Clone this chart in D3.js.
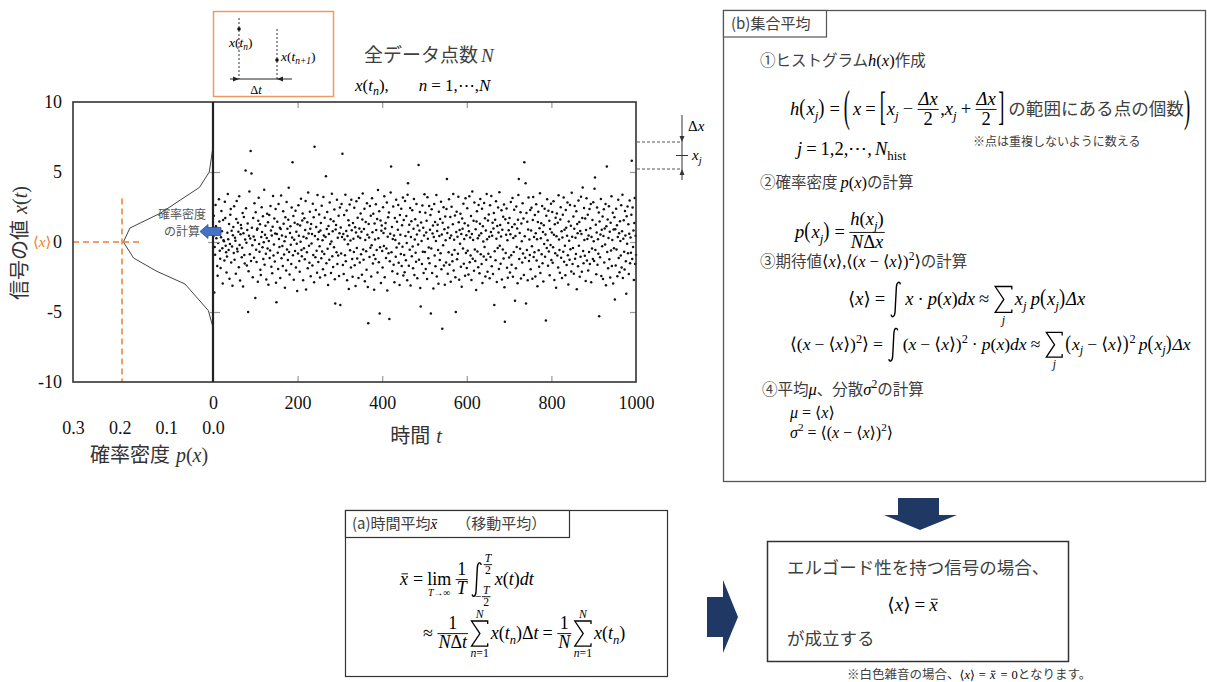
<!DOCTYPE html>
<html>
<head>
<meta charset="utf-8">
<script src="https://cdn.jsdelivr.net/npm/d3@7"></script>
<style>body{margin:0;background:#fff} svg{display:block}</style>
</head>
<body>
<svg id="chart" width="1207" height="682"></svg>
<script>
// signal value x(t_n), n = 1..1000 (one row = 50 samples)
var signal = [
0.42,1.87,-3.60,-0.35,-0.91,2.64,1.13,0.27,0.58,-1.72, -2.41,-0.08,0.93,3.05,1.46,-0.62,-1.19,-1.85,0.34,2.21, 0.77,-0.44,-2.96,1.58,0.12,0.05,-1.33,2.87,1.71,-0.26, -0.73,-2.18,-1.04,0.66,3.42,0.19,-0.57,1.29,-2.63,-0.15, 1.94,2.36,-1.47,0.81,-0.33,-3.12,0.48,1.07,-0.79,2.55,
-1.26,0.31,0.09,-2.27,1.64,2.93,-0.48,-0.67,1.38,0.74, -1.81,3.27,-0.21,-2.75,0.56,1.22,0.98,-1.09,-0.41,2.08, -3.18,0.63,1.79,-0.92,-1.54,0.17,5.10,2.41,-0.06,-1.67, 0.85,1.33,-5.00,-2.09,0.44,3.61,-0.87,0.25,6.50,-1.35, 4.90,1.02,-0.23,-2.51,1.71,0.39,-1.12,2.77,0.14,-4.00,
2.13,-0.55,-1.43,0.88,0.96,-2.84,1.52,3.16,-0.14,-0.69, 1.27,-1.98,-2.36,0.35,2.49,0.71,-0.38,1.84,-1.21,-0.02, 3.74,-1.63,0.52,1.16,-0.84,-2.67,0.29,2.02,-0.47,1.41, -3.05,0.07,1.93,-1.15,-0.61,2.58,0.83,-1.77,0.46,-2.23, 1.09,3.28,-0.97,-0.18,1.67,-1.39,0.61,2.35,-2.91,-4.30,
0.58,1.44,-0.76,-1.93,2.71,0.21,-0.35,1.02,-2.58,0.93, 3.33,-1.16,0.47,-0.28,-1.71,2.19,1.31,-0.89,0.06,-3.27, 1.76,0.38,-2.04,2.86,-0.53,0.94,-1.28,1.59,3.88,-0.71, -2.32,0.65,1.12,-0.19,-1.57,2.47,0.33,5.70,-0.94,1.85, -2.69,0.16,1.38,-0.64,2.24,-1.82,0.74,-0.12,-3.50,1.26,
-0.83,2.62,0.45,-1.36,-2.12,1.18,0.02,3.09,-0.57,-1.02, 1.53,2.04,-2.74,0.37,-0.45,1.69,-1.24,0.86,2.93,-3.39, 0.27,-0.74,1.41,-1.88,3.53,0.61,-0.26,-1.49,2.16,0.94, -2.45,1.29,-0.11,0.58,-1.67,2.74,-0.93,1.76,-2.88,6.80, 0.43,-1.09,2.28,1.07,-0.62,-2.19,3.36,0.19,-1.42,0.71,
1.96,-0.31,-2.53,0.82,1.35,-1.16,2.59,-0.68,0.13,-1.94, 3.21,0.47,-0.86,1.73,-2.37,0.35,4.70,-1.51,0.92,2.14, -0.49,-3.08,1.15,0.58,-1.27,2.82,-0.14,1.63,-2.21,0.04, 3.44,-1.01,0.76,-1.79,1.48,-0.37,2.33,-2.66,-4.40,0.89, 1.22,-0.73,3.01,-1.58,0.31,-0.96,1.87,-2.42,0.63,2.46,
-4.50,1.04,-0.82,2.71,0.36,6.30,-1.64,0.57,-2.29,1.92, 0.18,-0.94,3.38,-1.37,0.79,2.25,-2.73,0.42,-0.16,1.56, -3.36,1.19,2.67,-0.59,0.11,-1.83,3.02,0.84,-1.21,-2.48, 1.36,0.23,-0.72,2.44,-1.66,1.05,-3.14,0.68,2.91,-0.43, -1.18,1.73,0.39,-2.57,3.15,0.96,-1.47,0.28,2.04,-0.87,
0.74,-2.34,1.61,3.47,-0.53,-1.26,0.92,2.38,-2.81,0.15, 1.43,-0.66,-1.99,2.76,0.51,-3.22,-5.80,1.28,0.33,-1.08, 2.57,-0.41,1.88,-2.46,-0.24,3.12,0.69,-1.53,2.01,-0.92, -3.41,1.32,0.17,-1.21,2.69,0.86,-0.58,1.64,-2.17,3.72, 0.26,-1.44,2.19,-5.10,-0.37,1.53,-2.93,0.81,1.17,-0.65,
-1.83,2.48,0.64,-0.29,3.26,-2.51,0.97,1.35,-1.14,-0.47, 2.82,-3.46,0.38,1.76,-0.81,2.11,-5.50,-1.37,0.59,3.54, 5.40,-0.73,1.08,-2.09,0.22,2.53,-1.62,0.46,-2.88,1.71, 0.14,-1.05,3.02,-0.39,1.44,-2.26,0.88,2.65,-1.48,-0.11, -3.07,1.93,0.51,-0.86,2.37,-1.72,1.19,-0.34,3.18,-2.39,
1.57,-0.93,-2.16,2.92,0.43,-1.31,1.86,-0.07,-2.74,3.37, 4.20,0.71,-1.69,1.24,-0.55,2.43,-3.11,0.36,1.48,-1.02, 2.26,-0.32,-1.87,0.95,3.08,-2.36,0.18,1.63,-0.76,-1.41, 2.71,0.54,-2.59,1.17,-0.18,5.50,-1.26,0.83,2.14,-3.28, -4.60,1.39,0.07,-1.58,2.61,-0.69,1.02,-2.22,0.47,3.41,
-0.71,2.09,-1.93,0.68,1.51,-2.64,3.19,0.24,-1.16,-0.39, 2.58,-1.52,0.87,1.92,-5.10,-0.47,2.34,-2.21,0.61,1.17, -3.33,0.35,2.72,-0.96,1.43,-1.74,0.08,3.36,-2.47,0.79, 1.24,-0.58,-2.98,2.16,0.42,-1.29,1.65,-0.81,2.87,-1.94, 0.53,-6.20,1.37,-0.24,2.49,-1.68,0.91,-3.06,1.83,0.12,
-1.47,2.36,4.50,0.64,-2.27,1.03,-0.73,3.05,-1.62,0.29, 1.78,-2.84,0.47,2.51,-0.91,-1.38,1.26,3.42,-2.03,0.16, -0.57,1.89,-2.52,-5.00,0.72,2.16,-1.23,0.37,-0.84,3.23, 1.41,-2.69,0.85,-0.13,2.02,-1.76,0.58,-3.19,1.67,0.94, -0.46,2.73,-1.55,0.21,1.34,-2.41,3.12,-0.78,0.49,-1.86,
2.41,-0.62,1.18,-2.33,0.76,3.27,-1.44,0.32,-0.97,1.86, -2.71,0.58,3.61,-1.19,0.14,1.52,-2.06,2.83,-0.53,-1.35, 0.91,-3.42,1.47,2.19,-0.68,0.26,-1.81,2.64,0.47,-2.24, 1.31,3.08,-0.87,0.63,-1.58,2.37,-2.92,1.12,0.04,-1.03, 2.78,-0.36,1.69,-2.47,0.82,-1.27,3.43,0.19,-2.13,1.54,
-0.84,1.96,0.37,-2.59,2.62,-1.08,0.71,3.29,-1.73,0.45, 1.37,-2.28,0.96,2.08,-4.50,-0.66,1.59,-1.31,2.91,0.23, -2.86,1.14,-0.42,2.47,0.68,-1.92,3.55,-0.27,1.21,-1.56, 0.39,2.26,-2.67,0.87,-0.54,1.81,-1.17,2.68,-3.24,-5.70, 1.63,-0.79,0.51,2.39,-1.84,0.12,-2.55,1.36,0.84,-1.11,
1.72,-2.18,0.56,2.86,-0.94,-1.63,1.07,3.14,-2.49,0.28, -0.71,2.31,1.26,-4.20,0.43,-1.87,2.54,-0.36,0.97,-2.94, 1.59,3.36,4.50,-1.21,0.64,-0.49,2.12,-2.61,1.33,0.05, -1.46,2.77,-0.83,1.68,-2.35,5.70,0.41,-1.13,4.20,-4.40, 2.07,-0.58,1.44,-2.74,0.89,3.18,-1.36,0.17,-0.92,2.29,
-1.94,0.83,2.44,-0.31,-2.63,1.57,3.21,-1.08,0.36,-0.74, 1.93,-2.46,0.62,2.69,-1.33,0.19,-3.16,1.42,2.16,-0.59, -1.77,0.98,3.49,-2.21,0.27,1.34,-0.88,2.58,-1.52,0.71, -2.83,1.19,-0.15,2.37,-1.06,0.54,-5.60,1.88,-0.42,3.06, 0.13,-1.69,2.23,-0.67,1.51,-2.38,0.92,-0.21,2.74,-1.28,
0.67,2.15,-1.49,-0.38,2.91,0.52,-2.72,1.26,-0.81,1.74, -3.26,0.41,2.03,-0.96,1.37,-1.82,3.34,0.18,-0.57,-2.19, 1.61,2.48,-1.13,0.76,-2.58,0.33,1.94,-0.69,3.17,-1.41, 0.88,-0.27,-2.37,2.29,1.02,-1.64,0.45,2.82,-0.94,-3.03, 1.47,0.09,-1.27,2.64,-0.52,1.16,-2.11,3.51,0.37,-1.58,
-0.43,1.82,-2.26,0.94,2.57,-1.19,0.31,-0.86,2.19,-3.37, 1.28,0.63,-1.74,2.96,-0.27,1.43,-2.48,0.79,-1.06,3.24, 0.58,-2.13,1.71,3.90,-0.64,-1.52,2.43,0.14,-0.99,1.67, -2.78,0.86,3.13,-1.33,0.22,1.95,-2.04,0.47,-0.71,2.36, -1.57,0.99,2.71,-2.87,0.35,-0.46,1.58,-1.21,2.84,0.06,
-1.36,3.80,4.60,-0.57,1.24,-2.31,0.68,2.47,-1.62,0.19, -0.84,2.11,-5.30,1.46,-1.09,0.53,3.07,-2.42,0.87,-0.31, 1.83,-2.65,0.42,2.34,-1.47,0.96,-0.18,2.72,-3.09,1.13, 5.40,-0.72,1.61,-1.88,0.28,2.56,-1.24,0.74,-2.53,1.37, -0.61,3.26,-1.71,0.15,2.09,-2.97,0.89,-0.44,1.76,-4.10,
0.91,-1.67,2.38,-0.53,1.19,-2.44,0.36,3.02,-1.14,0.62, -2.16,1.49,0.08,-0.97,2.63,-1.83,0.77,3.38,-2.58,0.24, 1.56,-0.69,-1.96,2.21,0.47,-1.38,-3.70,1.84,-0.12,2.54, -0.81,1.27,-2.29,0.59,2.96,-1.52,0.33,-0.76,1.95,5.80, -1.21,2.47,-0.36,0.83,-2.71,1.36,3.14,-1.58,0.44,-0.93
];
// histogram based probability density p(x) (left panel)
var pdfValue = [-6.1, -4.9, -3.0, -2.1, -1.15, 0, 1.0, 2.05, 3.9, 5.0, 6.8];
var pdfDensity = [0, 0.01, 0.06, 0.12, 0.17, 0.192, 0.178, 0.113, 0.029, 0.008, 0];
var yTicks = [10, 5, 0, -5, -10];
var tTicks = [0, 200, 400, 600, 800, 1000];
var pTicks = [0.3, 0.2, 0.1, 0.0];
var innerTicks = [5, 0, -5];
var meanValue = 0, meanDensity = 0.195, meanDashTop = 3.1;

var MF = "'Liberation Serif','DejaVu Serif',serif";
var JF = "'Noto Sans CJK JP',sans-serif";
var JC = "#404040";

var svg = d3.select("#chart");

var y = d3.scaleLinear().domain([-10, 10]).range([382, 102]);
var t = d3.scaleLinear().domain([0, 1000]).range([213, 636]);
var p = d3.scaleLinear().domain([0, 0.3]).range([213, 73]);

// ---------- small math typesetting helpers ----------
function I(s) { return {t: s, i: 1}; }
function R(s) { return {t: s}; }
function J(s, k) { return {t: s, jp: 1, k: k || 1}; }
function SB(s, it) { return {t: s, sub: 1, i: it}; }
function SP(s) { return {t: s, sup: 1}; }
function G(n) { return {gap: n}; }
function OP(s) { return [G(4), R(s), G(4)]; }
function F(n, d, up) { return {frac: [n, d], up: up || 0}; }
function BIG(ch, k) { return {big: ch, k: k}; }
function SUM(lo, hi) { return {sum: 1, lo: lo, hi: hi}; }
function INT(lo, hi) { return {integ: 1, lo: lo, hi: hi}; }
function BAR(s) { return {bar: s}; }
function LIM(sub) { return {lim: sub}; }

function flat(a) {
  return a.reduce(function(r, v) { return r.concat(Array.isArray(v) ? flat(v) : [v]); }, []);
}

function put(g, x, yy, s, fs, o) {
  o = o || {};
  return g.append("text").attr("x", x).attr("y", yy)
    .attr("font-family", o.jp ? JF : MF).attr("font-size", fs)
    .attr("font-style", o.i ? "italic" : null)
    .attr("fill", o.fill || (o.jp ? JC : "#000"))
    .attr("text-anchor", o.anchor || null)
    .text(s);
}
function wid(e) { return e.node().getComputedTextLength(); }

function seq(g, x, yy, items, fs, col) {
  var cx = x, ink = col || "#000";
  flat(items).forEach(function(it) {
    if (it.gap != null) { cx += it.gap; return; }
    var ax = yy - fs * 0.3;
    if (it.frac) {
      var ng = g.append("g"), dg = g.append("g");
      var wn = seq(ng, 0, 0, it.frac[0], fs, col);
      var wd = seq(dg, 0, 0, it.frac[1], fs, col);
      var w = Math.max(wn, wd) + 3;
      ng.attr("transform", "translate(" + (cx + (w - wn) / 2) + "," + (ax - fs * (0.26 + it.up)) + ")");
      dg.attr("transform", "translate(" + (cx + (w - wd) / 2) + "," + (ax + fs * 0.82) + ")");
      g.append("line").attr("x1", cx + 0.5).attr("x2", cx + w - 0.5)
        .attr("y1", ax).attr("y2", ax).attr("stroke", ink).attr("stroke-width", 0.9);
      cx += w + 1; return;
    }
    if (it.big) {
      var b = put(g, 0, fs * 0.25, it.big, fs, {fill: col})
        .attr("transform", "translate(" + cx + "," + ax + ") scale(1," + it.k + ")");
      cx += wid(b) + 1; return;
    }
    if (it.sum) {
      var sw = fs * 0.9, sh = fs * 0.7, sx = cx + 2;
      g.append("path")
        .attr("d", "M" + (sx + sw) + "," + (ax - sh + 3) + " L" + (sx + sw) + "," + (ax - sh) + " L" + sx + "," + (ax - sh) +
          " L" + (sx + sw * 0.52) + "," + ax + " L" + sx + "," + (ax + sh) + " L" + (sx + sw) + "," + (ax + sh) + " L" + (sx + sw) + "," + (ax + sh - 3))
        .attr("fill", "none").attr("stroke", ink).attr("stroke-width", 1.3).attr("stroke-linejoin", "miter");
      if (it.lo) centered(g, sx + sw / 2, ax + sh + fs * 0.62, it.lo, fs * 0.65, col);
      if (it.hi) centered(g, sx + sw / 2, ax - sh - fs * 0.18, it.hi, fs * 0.65, col);
      cx += sw + 5; return;
    }
    if (it.integ) {
      var iw = fs * 0.5, top = ax - fs * 0.95, bot = ax + fs * 0.95, h = bot - top, ix = cx + 2;
      g.append("path")
        .attr("d", "M" + (ix + iw) + "," + (top + h * 0.07) + " C" + (ix + iw * 0.95) + "," + (top - h * 0.02) + " " + (ix + iw * 0.62) + "," + (top - h * 0.02) +
          " " + (ix + iw * 0.57) + "," + (top + h * 0.15) + " L" + (ix + iw * 0.43) + "," + (bot - h * 0.15) +
          " C" + (ix + iw * 0.38) + "," + (bot + h * 0.02) + " " + (ix + iw * 0.05) + "," + (bot + h * 0.02) + " " + ix + "," + (bot - h * 0.07))
        .attr("fill", "none").attr("stroke", ink).attr("stroke-width", 1.4);
      var adv = iw + 4, fl = fs * 0.65;
      if (it.hi) adv = Math.max(adv, iw + 2 + seq(g, ix + iw + 2, top + fs * 0.12 + fl * 0.3, it.hi, fl, col));
      if (it.lo) adv = Math.max(adv, iw * 0.3 + seq(g, ix + iw * 0.3, bot + fl * 0.3, it.lo, fl, col));
      cx = ix + adv + 1; return;
    }
    if (it.bar) {
      var xb = put(g, cx, yy, it.bar, fs, {i: 1, fill: col});
      var wb = wid(xb);
      g.append("line").attr("x1", cx + wb * 0.2).attr("x2", cx + wb * 1.0)
        .attr("y1", yy - fs * 0.62).attr("y2", yy - fs * 0.62).attr("stroke", ink).attr("stroke-width", 0.9);
      cx += wb + 1; return;
    }
    if (it.lim) {
      var lg = g.append("g");
      var wsub = centered(lg, 0, yy + fs * 0.62, it.lim, fs * 0.55, col);
      var l = put(lg, 0, yy, "lim", fs, {fill: col});
      var wl = wid(l);
      l.attr("x", -wl / 2);
      var wm = Math.max(wl, wsub);
      lg.attr("transform", "translate(" + (cx + wm / 2) + ",0)");
      cx += wm + 1; return;
    }
    var sz = (it.sub || it.sup) ? fs * 0.7 : fs * (it.k || 1);
    var y2 = it.sub ? yy + fs * 0.25 : it.sup ? yy - fs * 0.42 : yy;
    var e = put(g, cx, y2, it.t, sz, {i: it.i, jp: it.jp, fill: col});
    cx += wid(e);
  });
  return cx - x;
}
function centered(g, xm, yy, items, fs, col) {
  var gg = g.append("g");
  var w = seq(gg, 0, yy, items, fs, col);
  gg.attr("transform", "translate(" + (xm - w / 2) + ",0)");
  return w;
}

// ---------- main plot ----------
var plot = svg.append("g");

// scatter of the signal
plot.selectAll(".dot").data(signal).enter().append("circle")
  .attr("class", "dot")
  .attr("cx", function(d, i) { return t(i + 1); })
  .attr("cy", function(d) { return y(d); })
  .attr("r", 1.25)
  .attr("fill", "#111");

// probability density curve
var pdfPts = pdfValue.map(function(v, i) { return [p(pdfDensity[i]), y(v)]; });
plot.append("path").attr("d", d3.line()(pdfPts))
  .attr("fill", "none").attr("stroke", "#444").attr("stroke-width", 1);

// orange dashed guides for <x>
plot.append("line").attr("x1", p(0.3)).attr("x2", p(0.155)).attr("y1", y(meanValue)).attr("y2", y(meanValue))
  .attr("stroke", "#ED7D31").attr("stroke-width", 1.5).attr("stroke-dasharray", "6,4");
plot.append("line").attr("x1", p(meanDensity)).attr("x2", p(meanDensity)).attr("y1", y(meanDashTop)).attr("y2", y(-10))
  .attr("stroke", "#ED7D31").attr("stroke-width", 1.5).attr("stroke-dasharray", "6,4");

// ticks
function tickStyle(sel) {
  sel.select(".domain").remove();
  sel.selectAll("line").attr("stroke", "#999").attr("stroke-width", 1.2);
  sel.selectAll("text").remove();
}
plot.append("g").attr("transform", "translate(" + t(0) + ",0)")
  .call(d3.axisLeft(y).tickValues(innerTicks).tickSize(5)).call(tickStyle);
plot.append("g").attr("transform", "translate(" + t(0) + ",0)")
  .call(d3.axisRight(y).tickValues(innerTicks).tickSize(7)).call(tickStyle);
plot.append("g").attr("transform", "translate(" + t(1000) + ",0)")
  .call(d3.axisLeft(y).tickValues(innerTicks).tickSize(6)).call(tickStyle);
plot.append("g").attr("transform", "translate(0," + y(10) + ")")
  .call(d3.axisBottom(t).tickValues([200, 400, 600, 800]).tickSize(6)).call(tickStyle);
plot.append("g").attr("transform", "translate(0," + y(-10) + ")")
  .call(d3.axisTop(t).tickValues([200, 400, 600, 800]).tickSize(6)).call(tickStyle);

// frame
plot.append("rect").attr("x", p(0.3)).attr("y", y(10)).attr("width", t(1000) - p(0.3)).attr("height", y(-10) - y(10))
  .attr("fill", "none").attr("stroke", "#333").attr("stroke-width", 1.6);
plot.append("line").attr("x1", t(0)).attr("x2", t(0)).attr("y1", y(10)).attr("y2", y(-10))
  .attr("stroke", "#222").attr("stroke-width", 2.2);

// tick labels
function labelStyle(sel) {
  sel.select(".domain").remove();
  sel.selectAll("line").remove();
  sel.selectAll("text").attr("font-family", "'Liberation Serif',serif").attr("font-size", 18).attr("fill", "#111");
}
plot.append("g").attr("transform", "translate(" + p(0.3) + ",0)")
  .call(d3.axisLeft(y).tickValues(yTicks).tickSize(0).tickPadding(11).tickFormat(function(d) { return String(d); })).call(labelStyle);
plot.append("g").attr("transform", "translate(0," + y(-10) + ")")
  .call(d3.axisBottom(t).tickValues(tTicks).tickSize(0).tickPadding(14).tickFormat(function(d) { return String(d); })).call(labelStyle);
plot.append("g").attr("transform", "translate(0," + y(-10) + ")")
  .call(d3.axisBottom(p).tickValues(pTicks).tickSize(0).tickPadding(39).tickFormat(d3.format(".1f"))).call(labelStyle);

// axis titles
var yt = svg.append("g").attr("transform", "translate(27,243) rotate(-90)");
centered(yt, 0, 0, [J("信号の値"), G(6), I("x"), R("("), I("t"), R(")")], 20, "#333");
centered(svg.append("g"), 149, 462, [J("確率密度"), G(6), I("p"), R("("), I("x"), R(")")], 20, "#333");
centered(svg.append("g"), 416, 443, [J("時間"), G(6), I("t")], 20, "#333");

// <x> label
seq(svg.append("g"), 33, 247, [R("\u27E8"), I("x"), R("\u27E9")], 15, "#ED7D31");

// density calc note + blue arrow
put(svg, 182, 219, "確率密度", 12, {jp: 1, anchor: "middle", fill: "#555"});
put(svg, 182, 236, "の計算", 12, {jp: 1, anchor: "middle", fill: "#555"});
svg.append("polygon").attr("points", "200,231.5 208,224.5 208,227.5 221,227.5 221,235.5 208,235.5 208,238.5")
  .attr("fill", "#4472C4").attr("stroke", "#2F528F").attr("stroke-width", 0.8);

// ---------- sampling inset ----------
var ins = svg.append("g");
ins.append("rect").attr("x", 213.5).attr("y", 11.5).attr("width", 120).attr("height", 85)
  .attr("fill", "none").attr("stroke", "#F09A62").attr("stroke-width", 1.5);
[[239, 18, 29], [277, 29, 60]].forEach(function(d) {
  ins.append("line").attr("x1", d[0]).attr("x2", d[0]).attr("y1", d[1]).attr("y2", 79)
    .attr("stroke", "#333").attr("stroke-width", 1).attr("stroke-dasharray", "2,2");
  ins.append("circle").attr("cx", d[0]).attr("cy", d[2]).attr("r", 1.8).attr("fill", "#111");
});
ins.append("line").attr("x1", 230).attr("x2", 292).attr("y1", 79).attr("y2", 79).attr("stroke", "#222").attr("stroke-width", 1);
ins.append("polygon").attr("points", "239,79 233,76.5 233,81.5").attr("fill", "#222");
ins.append("polygon").attr("points", "277,79 283,76.5 283,81.5").attr("fill", "#222");
seq(ins, 229, 47, [I("x"), R("("), I("t"), SB("n", 1), R(")")], 13.5);
seq(ins, 281, 61, [I("x"), R("("), I("t"), SB("n+1", 1), R(")")], 13.5);
centered(ins, 256, 94, [R("Δ"), I("t")], 12.5);

seq(svg.append("g"), 364, 62, [J("全データ点数"), G(3), I("N")], 19, JC);
seq(svg.append("g"), 355, 91, [I("x"), R("("), I("t"), SB("n", 1), R("),"), G(30), I("n"), OP("="), R("1,\u22EF,"), I("N")], 17);

// Δx bin marker
var bm = svg.append("g");
bm.append("line").attr("x1", 682).attr("x2", 682).attr("y1", 115).attr("y2", 180).attr("stroke", "#555").attr("stroke-width", 1.2);
[142, 169].forEach(function(v) {
  bm.append("line").attr("x1", 637).attr("x2", 682).attr("y1", v).attr("y2", v)
    .attr("stroke", "#555").attr("stroke-width", 1).attr("stroke-dasharray", "3,2");
});
bm.append("polygon").attr("points", "682,142 679.5,136 684.5,136").attr("fill", "#333");
bm.append("polygon").attr("points", "682,169 679.5,175 684.5,175").attr("fill", "#333");
bm.append("line").attr("x1", 676).attr("x2", 688).attr("y1", 155.5).attr("y2", 155.5).attr("stroke", "#333").attr("stroke-width", 1);
seq(bm, 688, 131, [R("Δ"), I("x")], 15);
seq(bm, 692, 160, [I("x"), SB("j", 1)], 15);

// ---------- (b) ensemble average ----------
var bx = svg.append("g");
bx.append("rect").attr("x", 723.5).attr("y", 10.5).attr("width", 482).attr("height", 471)
  .attr("fill", "none").attr("stroke", "#555").attr("stroke-width", 1.3);
bx.append("rect").attr("x", 723.5).attr("y", 10.5).attr("width", 103).attr("height", 26.5)
  .attr("fill", "#fff").attr("stroke", "#555").attr("stroke-width", 1.2);
put(bx, 731, 29, "(b)集合平均", 15, {jp: 1});

var FB = 18.5, JK = 15.5 / 16.5;
seq(bx, 760, 66, [J("①ヒストグラム", JK), I("h"), R("("), I("x"), R(")"), J("作成", JK)], 16.5);
seq(bx, 790, 115, [I("h"), BIG("(", 1.25), I("x"), SB("j", 1), BIG(")", 1.25), OP("="), BIG("(", 2.4), G(2), I("x"), OP("="),
  BIG("[", 2.2), I("x"), SB("j", 1), OP("−"), F([I("Δx")], [R("2")]), R(","), I("x"), SB("j", 1), OP("+"),
  F([I("Δx")], [R("2")]), BIG("]", 2.2), G(3), J("の範囲にある点の個数", 0.95), BIG(")", 2.4)], FB);
seq(bx, 797, 155, [I("j"), OP("="), R("1,2,\u22EF,"), G(3), I("N"), SB("hist")], FB);
put(bx, 973, 146, "※点は重複しないように数える", 12, {jp: 1});

seq(bx, 760, 188, [J("②確率密度", JK), G(3), I("p"), R("("), I("x"), R(")"), J("の計算", JK)], 16.5);
seq(bx, 795, 238, [I("p"), BIG("(", 1.25), I("x"), SB("j", 1), BIG(")", 1.25), OP("="),
  F([I("h"), R("("), I("x"), SB("j", 1), R(")")], [I("N"), R("Δ"), I("x")], 0.14)], FB);

seq(bx, 760, 267, [J("③期待値", JK), R("\u27E8"), I("x"), R("\u27E9,\u27E8("), I("x"), OP("−"), R("\u27E8"), I("x"), R("\u27E9)"), SP("2"), R("\u27E9"), J("の計算", JK)], 16.5);
seq(bx, 848, 305, [R("\u27E8"), I("x"), R("\u27E9"), OP("="), INT(), I("x"), OP("·"), I("p"), R("("), I("x"), R(")"), I("dx"), OP("≈"),
  SUM([I("j")]), I("x"), SB("j", 1), G(4), I("p"), BIG("(", 1.25), I("x"), SB("j", 1), BIG(")", 1.25), I("Δx")], FB);
seq(bx, 790, 350, [R("\u27E8("), I("x"), OP("−"), R("\u27E8"), I("x"), R("\u27E9)"), SP("2"), R("\u27E9"), OP("="), INT(), R("("), I("x"), OP("−"),
  R("\u27E8"), I("x"), R("\u27E9)"), SP("2"), OP("·"), I("p"), R("("), I("x"), R(")"), I("dx"), OP("≈"), SUM([I("j")]),
  BIG("(", 1.25), I("x"), SB("j", 1), OP("−"), R("\u27E8"), I("x"), R("\u27E9"), BIG(")", 1.25), SP("2"), G(3),
  I("p"), BIG("(", 1.25), I("x"), SB("j", 1), BIG(")", 1.25), I("Δx")], 17.6);

seq(bx, 762, 395, [J("④平均", JK), I("μ"), J("、分散", JK), I("σ"), SP("2"), J("の計算", JK)], 16.5);
seq(bx, 790, 418, [I("μ"), OP("="), R("\u27E8"), I("x"), R("\u27E9")], 16);
seq(bx, 790, 438, [I("σ"), SP("2"), OP("="), R("\u27E8("), I("x"), OP("−"), R("\u27E8"), I("x"), R("\u27E9)"), SP("2"), R("\u27E9")], 16);

// ---------- (a) time average ----------
var ab = svg.append("g");
ab.append("rect").attr("x", 345.5).attr("y", 510.5).attr("width", 322).attr("height", 166)
  .attr("fill", "none").attr("stroke", "#333").attr("stroke-width", 1.2);
ab.append("rect").attr("x", 345.5).attr("y", 510.5).attr("width", 224).attr("height", 27)
  .attr("fill", "#fff").attr("stroke", "#333").attr("stroke-width", 1.2);
seq(ab, 352, 529, [J("(a)時間平均"), BAR("x"), G(18), J("（移動平均）")], 15);
seq(ab, 400, 585, [BAR("x"), OP("="), LIM([I("T"), R("→∞")]), G(3), F([R("1")], [I("T")]), G(1),
  INT([R("−"), F([I("T")], [R("2")])], [F([I("T")], [R("2")])]), I("x"), R("("), I("t"), R(")"), I("dt")], 18);
seq(ab, 423, 639, [R("≈"), G(4), F([R("1")], [I("N"), R("Δ"), I("t")]), SUM([I("n"), R("=1")], [I("N")]),
  I("x"), R("("), I("t"), SB("n", 1), R(")"), R("Δ"), I("t"), OP("="), F([R("1")], [I("N")]),
  SUM([I("n"), R("=1")], [I("N")]), I("x"), R("("), I("t"), SB("n", 1), R(")")], 18);

// ---------- arrows and conclusion ----------
svg.append("polygon").attr("points", "707,597 723,597 723,580 738,617 723,653 723,637 707,637").attr("fill", "#203864");
svg.append("polygon").attr("points", "898,498 939,498 939,515 957,515 920,530 884,515 898,515").attr("fill", "#203864");

var cb = svg.append("g");
cb.append("rect").attr("x", 767.5).attr("y", 541.5).attr("width", 301).attr("height", 120)
  .attr("fill", "none").attr("stroke", "#333").attr("stroke-width", 1.5);
put(cb, 787, 574, "エルゴード性を持つ信号の場合、", 17.5, {jp: 1});
centered(cb, 913, 611, [R("\u27E8"), I("x"), R("\u27E9"), OP("="), BAR("x")], 19);
put(cb, 787, 645, "が成立する", 17.5, {jp: 1});
seq(svg.append("g"), 847, 679, [J("※白色雑音の場合、"), R("\u27E8"), I("x"), R("\u27E9"), OP("="), BAR("x"), OP("="), R("0"), J("となります。")], 12.5);
</script>
</body>
</html>
